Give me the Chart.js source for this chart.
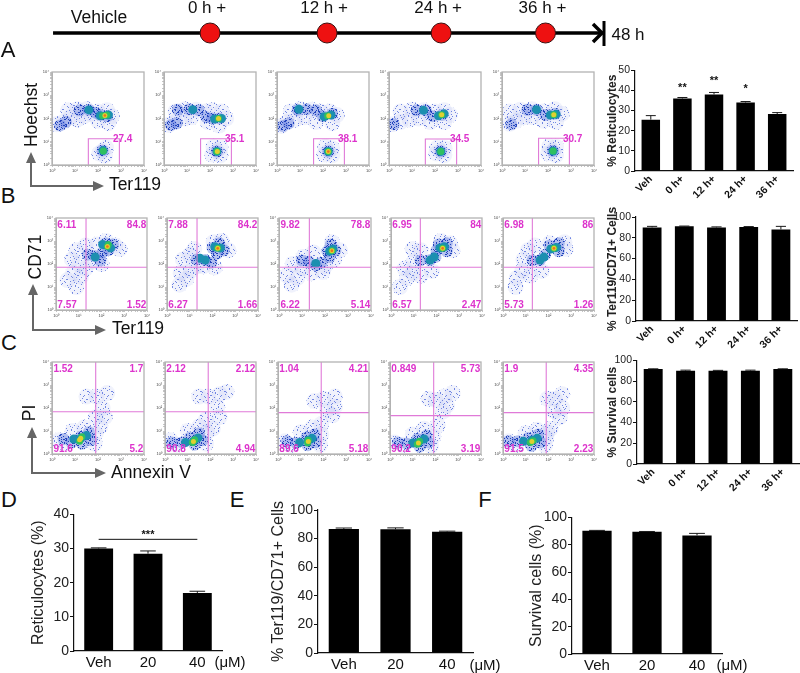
<!DOCTYPE html>
<html>
<head>
<meta charset="utf-8">
<title>Reticulocytes</title>
<script src="https://cdn.jsdelivr.net/npm/chart.js@4.4.2/dist/chart.umd.min.js"></script>
<style>
    html, body { margin: 0; padding: 0; background: #fff; }
    #page { position: relative; width: 800px; height: 673px; overflow: hidden; font-family: "Liberation Sans", Arial, sans-serif; color: #111; }
    #page canvas { position: absolute; }
    .txt { position: absolute; white-space: nowrap; line-height: 1; transform: translate(-50%, -50%); }
    svg { position: absolute; left: 0; top: 0; }
</style>
</head>
<body>
<div id="page">
    <svg width="800" height="673">
        <g fill="none" stroke="#666" stroke-width="2">
            <path d="M31 160V186H96"/>
            <path d="M33 293V330H98"/>
            <path d="M32 436V473H98"/>
        </g>
        <g fill="#666">
            <path d="M31 152l-5 11h10z M104 186l-11-5v10z"/>
            <path d="M33 284l-5 11h10z M106 330l-11-5v10z"/>
            <path d="M32 427l-5 11h10z M106 473l-11-5v10z"/>
        </g>
        <path d="M593 24l9 9-9 9" fill="none" stroke="#000" stroke-width="3.5"/>
        <path d="M604 21V46" fill="none" stroke="#000" stroke-width="3"/>
    </svg>
</div>
<script>
// --- timeline ---
const timelineHours = [0, 12, 23.7, 34.4];
const timelineLabels = ['0 h +', '12 h +', '24 h +', '36 h +'];
const timelineStart = -16.1;
const timelineEnd = 40.4;

// --- bar panels ---
const timeGroups = ['Veh', '0 h+', '12 h+', '24 h+', '36 h+'];
const doseGroups = ['Veh', '20', '40'];

const retiValues = [25.5, 36, 38, 34, 28.3];
const retiErrors = [2, 0.5, 1, 0.5, 0.7];
const retiStars = ['', '**', '**', '*', ''];
const retiStarLevels = [0, 42, 45.5, 41.5, 0];

const ter119Values = [90, 91, 90, 90.5, 88];
const ter119Errors = [1, 0.3, 0.5, 0.3, 3];

const survivalValues = [91.5, 90, 90, 90, 91.5];
const survivalErrors = [0.3, 0.5, 0.3, 0.5, 0.3];

const doseRetiValues = [30, 28.5, 17];
const doseRetiErrors = [0.2, 0.8, 0.5];
const doseRetiStars = ['', '***', ''];
const doseRetiStarLevels = [0, 34.6, 0];
const doseRetiBracket = [32.7, 32.7, 32.7];

const doseTerValues = [86.7, 86.5, 84.8];
const doseTerErrors = [0.7, 1, 0.4];

const doseSurvivalValues = [90.3, 89.5, 86.8];
const doseSurvivalErrors = [0.2, 0.2, 1.5];

// --- flow plots: [log10 x, log10 y, density level 1-6] ---
const decades = [1, 10, 100, 1000, 10000];
const decadeLabels = ['10⁰', '10¹', '10²', '10³', '10⁴'];

const flowA1 = [[0.2,1.75,1],[0.5,1.85,1],[0.8,2.05,1],[1.1,1.95,1],[1.4,2.1,1],[1.7,2.2,1],[0.7,2.35,1],[1.1,2.4,1],[1.5,2.4,1],[2,2.3,1],[2.4,2.35,1],[2.6,2.1,1],[2.45,1.8,1],[2,1.9,1],[2.2,0.6,1],[2.05,0.5,1],[2.35,0.75,1],[2.3,0.4,1],[0.35,1.7,2],[0.6,1.85,2],[1.2,2.35,2],[1.6,2.38,2],[1.9,2.25,2],[2.1,2.15,2],[2.4,2.1,2],[2.2,0.62,2],[1.6,2.37,3],[2.1,2.12,3],[2.45,2.15,3],[2.22,0.62,3],[2.2,2.12,4],[2.38,2.15,4],[2.23,0.6,4],[2.3,2.13,5],[2.3,2.13,6]];
const flowA2 = [[0.2,1.72,1],[0.5,1.85,1],[0.9,2.0,1],[1.2,2.05,1],[0.5,2.3,1],[0.9,2.4,1],[1.4,2.38,1],[1.8,2.3,1],[2.1,2.35,1],[2.5,2.3,1],[2.7,2.0,1],[2.4,1.7,1],[1.9,1.85,1],[2.3,0.6,1],[2.1,0.45,1],[2.45,0.75,1],[2.15,0.78,1],[2.45,0.42,1],[0.3,1.72,2],[0.55,1.8,2],[0.6,2.38,2],[1.1,2.4,2],[1.5,2.36,2],[1.85,2.05,2],[2.1,2,2],[2.4,2,2],[2.3,0.58,2],[1.25,2.38,3],[2.2,1.98,3],[2.5,2,3],[2.3,0.58,3],[2.37,2,4],[2.3,0.58,4],[2.37,2,5],[2.32,0.58,5]];
const flowA3 = [[0.2,1.68,1],[0.45,1.85,1],[0.8,1.95,1],[1.2,2.05,1],[0.6,2.3,1],[1,2.4,1],[1.5,2.38,1],[1.9,2.3,1],[2.3,2.3,1],[2.6,2.15,1],[2.4,1.8,1],[1.7,1.85,1],[2.23,0.58,1],[2.05,0.45,1],[2.4,0.72,1],[2.1,0.78,1],[2.4,0.42,1],[0.25,1.68,2],[0.5,1.78,2],[0.9,2.38,2],[1.3,2.4,2],[1.7,2.35,2],[2,2.1,2],[2.4,2.2,2],[2.23,0.58,2],[0.95,2.4,3],[2.05,2.08,3],[2.35,2.15,3],[2.23,0.58,3],[2.2,2.12,4],[2.23,0.58,4],[2.25,2.12,5],[2.23,0.58,5],[2.23,0.58,6]];
const flowA4 = [[0.15,1.75,1],[0.5,1.85,1],[0.9,1.95,1],[1.3,2,1],[0.5,2.3,1],[1,2.38,1],[1.5,2.35,1],[2,2.3,1],[2.4,2.35,1],[2.65,2.15,1],[2.4,1.85,1],[1.8,1.85,1],[2.25,0.58,1],[2.05,0.5,1],[2.42,0.72,1],[2.1,0.75,1],[2.4,0.42,1],[0.2,1.75,2],[1.2,2.35,2],[1.6,2.35,2],[1.9,2.1,2],[2.3,2.15,2],[2.25,0.58,2],[1.5,2.35,3],[2.15,2.12,3],[2.4,2.2,3],[2.25,0.58,3],[2.29,2.16,4],[2.25,0.58,4],[2.29,2.16,5]];
const flowA5 = [[0.33,1.77,1],[0.6,1.9,1],[0.95,2.05,1],[1.3,2.05,1],[0.35,2.3,1],[0.8,2.38,1],[1.3,2.4,1],[1.8,2.3,1],[2.3,2.4,1],[2.6,2.2,1],[2.35,1.85,1],[1.8,1.9,1],[2.22,0.6,1],[2,0.5,1],[2.35,0.78,1],[2.05,0.8,1],[2.35,0.42,1],[0.4,1.75,2],[1.1,2.38,2],[1.5,2.38,2],[1.9,2.15,2],[2.3,2.2,2],[2.22,0.6,2],[1.5,2.38,3],[2.1,2.15,3],[2.35,2.18,3],[2.22,0.6,3],[2.25,2.16,4],[2.22,0.6,4],[2.25,2.16,5]];

const flowB1 = [[0.5,1.3,1],[0.75,1.6,1],[0.9,1.0,1],[1.1,1.45,1],[0.7,2.2,1],[1.0,2.0,1],[1.3,1.8,1],[0.9,2.6,1],[1.3,2.8,1],[1.6,2.1,1],[2,2.0,1],[2.6,2.8,1],[2.8,2.65,1],[2.2,3.0,1],[1.8,2.85,1],[1.7,2.35,2],[1.4,2.4,2],[1.95,2.15,2],[2.05,2.5,2],[2.2,2.9,2],[2.5,2.85,2],[2.3,2.6,2],[1.72,2.3,3],[2.05,2.85,3],[2.4,2.7,3],[2.26,2.76,4],[2.3,2.85,4],[2.26,2.76,5],[2.26,2.76,6]];
const flowB2 = [[0.55,1.1,1],[0.6,1.6,1],[0.85,1.35,1],[1.05,1.7,1],[0.7,2.2,1],[1,2.4,1],[1.3,1.9,1],[1.2,2.65,1],[1.6,1.9,1],[2.1,1.85,1],[2.7,2.6,1],[2.4,3.0,1],[2.05,2.95,1],[1.3,2.2,2],[1.68,2.17,2],[1.95,2.05,2],[2,2.7,2],[2.3,2.9,2],[2.5,2.6,2],[2.2,2.45,2],[1.68,2.17,3],[1.45,2.25,3],[2.1,2.75,3],[2.35,2.7,3],[2.23,2.68,4],[2.23,2.68,5],[2.23,2.68,6]];
const flowB3 = [[0.55,1.1,1],[0.35,1.5,1],[0.8,1.4,1],[0.6,2,1],[1,1.8,1],[1.05,2.3,1],[1.4,1.6,1],[1.9,1.65,1],[2,1.9,1],[2.4,2.2,1],[2.65,2.6,1],[1.5,2.5,1],[2.3,2.95,1],[1.0,2.15,2],[1.3,2.1,2],[1.6,1.95,2],[1.85,2.05,2],[2.1,2.55,2],[2.45,2.6,2],[2.25,2.85,2],[2.2,2.3,2],[1.6,2.02,3],[2.2,2.55,3],[2.35,2.65,3],[2.3,2.58,4],[2.3,2.58,5],[2.3,2.58,6]];
const flowB4 = [[0.4,1.0,1],[0.7,1.38,1],[0.95,1.6,1],[0.6,1.8,1],[1.0,2.1,1],[0.95,2.65,1],[1.3,2.6,1],[1.3,1.5,1],[1.8,1.7,1],[2.6,2.9,1],[2.7,2.6,1],[2.2,3.0,1],[1.3,2.15,2],[1.72,2.17,2],[1.95,2.3,2],[2.1,2.85,2],[2.45,2.9,2],[2.45,2.55,2],[2.0,2.6,2],[1.72,2.17,3],[1.9,2.3,3],[2.15,2.7,3],[2.35,2.75,3],[2.27,2.68,4],[2.27,2.68,5],[2.27,2.68,6]];
const flowB5 = [[0.6,1.38,1],[0.55,1.0,1],[0.85,1.7,1],[0.9,2.2,1],[1.1,2.6,1],[1.4,2.8,1],[1.2,1.5,1],[1.7,1.7,1],[2.05,2.9,1],[2.7,2.95,1],[2.75,2.65,1],[1.3,2.15,2],[1.63,2.17,2],[1.85,2.4,2],[2.05,2.8,2],[2.45,2.9,2],[2.45,2.55,2],[1.63,2.17,3],[1.8,2.3,3],[2.1,2.65,3],[2.35,2.72,3],[2.24,2.68,4],[2.24,2.68,5],[2.24,2.68,6]];

const flowC1 = [[1.93,2.5,1],[2.4,2.65,1],[1.5,2.5,1],[2.3,1.6,1],[2.1,1.2,1],[1.9,1.6,1],[2.2,2.0,1],[0.3,0.6,1],[0.6,0.45,1],[0.9,1.0,1],[1.4,1.15,1],[1.9,0.9,1],[1.85,0.45,1],[0.5,0.65,2],[0.85,0.5,2],[1.25,0.75,2],[1.6,0.95,2],[1.7,0.6,2],[1.3,0.45,2],[0.95,0.65,3],[1.25,0.69,3],[1.5,0.8,3],[1.2,0.55,4],[1.3,0.75,4],[1.25,0.69,5],[1.2,0.62,5]];
const flowC2 = [[1.9,2.5,1],[2.4,2.6,1],[1.5,2.5,1],[2.4,1.6,1],[2.1,1.1,1],[1.8,1.5,1],[2.3,2.05,1],[2.7,2.7,1],[0.25,0.6,1],[0.5,0.4,1],[1,1.0,1],[1.5,1.2,1],[1.85,0.95,1],[1.8,0.45,1],[0.3,0.5,2],[0.75,0.5,2],[1.1,0.72,2],[1.5,0.9,2],[1.65,0.6,2],[1.3,0.4,2],[0.9,0.5,3],[1.25,0.55,3],[1.45,0.7,3],[1.2,0.5,4],[1.3,0.62,4],[1.25,0.54,5]];
const flowC3 = [[2.0,2.4,1],[2.5,2.5,1],[1.6,2.3,1],[2.4,1.68,1],[2.15,1.9,1],[1.9,1.3,1],[2.5,2.05,1],[0.3,0.55,1],[0.6,0.4,1],[1,0.95,1],[1.5,1.15,1],[1.9,0.85,1],[1.85,0.4,1],[0.4,0.55,2],[0.8,0.48,2],[1.25,0.72,2],[1.6,0.85,2],[1.65,0.5,2],[1.3,0.38,2],[0.95,0.5,3],[1.33,0.6,3],[1.5,0.68,3],[1.3,0.48,4],[1.33,0.6,4],[1.33,0.54,5]];
const flowC4 = [[2.4,2.5,1],[2.0,2.35,1],[2.75,2.65,1],[2.33,1.84,1],[2.1,1.25,1],[2.5,2.1,1],[1.7,2.4,1],[0.2,0.5,1],[0.6,0.4,1],[1,0.85,1],[1.5,1.1,1],[1.9,0.75,1],[1.8,0.35,1],[0.35,0.5,2],[0.75,0.45,2],[1.2,0.65,2],[1.6,0.8,2],[1.7,0.5,2],[1.3,0.32,2],[1,0.48,3],[1.25,0.5,3],[1.5,0.65,3],[1.2,0.42,4],[1.3,0.55,4],[1.25,0.48,5]];
const flowC5 = [[2.28,2.4,1],[1.95,2.4,1],[2.6,2.6,1],[2.5,1.6,1],[2.25,1.85,1],[2.1,1.1,1],[1.95,0.95,1],[2.6,2.0,1],[0.25,0.55,1],[0.6,0.4,1],[1,0.9,1],[1.5,1.05,1],[1.9,0.7,1],[1.85,0.38,1],[0.25,0.55,2],[0.65,0.55,2],[1.1,0.7,2],[1.55,0.85,2],[1.65,0.5,2],[1.25,0.35,2],[0.9,0.55,3],[1.27,0.6,3],[1.5,0.68,3],[1.2,0.5,4],[1.32,0.58,4],[1.27,0.54,5]];

// gates in log10 units
const gateRowA = [[1.58, 2.93, 1.13], [1.59, 2.93, 1.13], [1.59, 2.93, 1.13], [1.58, 2.94, 1.12], [1.59, 2.93, 1.15]];
const quadRowB = [[1.32, 1.86], [1.32, 1.86], [1.32, 1.86], [1.29, 1.86], [1.29, 1.86]];
const quadRowC = [[1.9, 1.84], [1.9, 1.84], [1.9, 1.8], [1.92, 1.67], [1.9, 1.8]];

// percentages printed on the plots
const gatePercents = ['27.4', '35.1', '38.1', '34.5', '30.7'];
const quadPercentsB = [['6.11', '84.8', '7.57', '1.52'], ['7.88', '84.2', '6.27', '1.66'], ['9.82', '78.8', '6.22', '5.14'], ['6.95', '84', '6.57', '2.47'], ['6.98', '86', '5.73', '1.26']];
const quadPercentsC = [['1.52', '1.7', '91.6', '5.2'], ['2.12', '2.12', '90.8', '4.94'], ['1.04', '4.21', '89.6', '5.18'], ['0.849', '5.73', '90.2', '3.19'], ['1.9', '4.35', '91.5', '2.23']];

const FONT = '"Liberation Sans", Arial, sans-serif';
const page = document.getElementById('page');

function addText(text, cx, cy, size, rotate) {
    const el = document.createElement('div');
    el.className = 'txt';
    el.textContent = text;
    el.style.left = cx + 'px';
    el.style.top = cy + 'px';
    el.style.fontSize = size + 'px';
    if (rotate) el.style.transform = `translate(-50%, -50%) rotate(${rotate}deg)`;
    page.appendChild(el);
}

// box = chart area on the page, m = room left around it for axes
function addChart(box, m, config) {
    const canvas = document.createElement('canvas');
    const width = box.x1 - box.x0 + m.l + m.r;
    const height = box.y1 - box.y0 + m.t + m.b;
    canvas.width = width;
    canvas.height = height;
    canvas.style.left = (box.x0 - m.l) + 'px';
    canvas.style.top = (box.y0 - m.t) + 'px';
    canvas.style.width = width + 'px';
    canvas.style.height = height + 'px';
    page.appendChild(canvas);

    const options = config.options;
    options.responsive = false;
    options.animation = false;
    options.devicePixelRatio = 1;
    options.layout = { autoPadding: false, padding: { top: m.t, right: m.r, left: 0, bottom: 0 } };
    options.plugins = Object.assign({ legend: { display: false }, tooltip: { enabled: false } }, options.plugins);
    options.scales.x.afterFit = s => { s.height = m.b; };
    options.scales.y.afterFit = s => { s.width = m.l; };
    return new Chart(canvas, config);
}

// --- speckle fills, so the low density zones read as single events ---
const speckleDots = [[1,2],[6,0],[11,3],[16,1],[20,4],[3,6],[8,7],[14,6],[18,8],[22,9],[0,10],[5,11],[10,10],[15,12],[19,13],[2,14],[7,15],[12,15],[17,16],[22,17],[4,18],[9,19],[13,20],[20,20],[1,22],[6,23],[16,22],[23,1],[12,8],[9,13]];
const sparseShifts = [[0, 0], [7, 11]];
const denseShifts = [[0, 0], [7, 11], [13, 5], [3, 17], [19, 9]];

function speckle(color, shifts, back) {
    const tile = document.createElement('canvas');
    tile.width = tile.height = 24;
    const c = tile.getContext('2d');
    if (back) {
        c.fillStyle = back;
        c.fillRect(0, 0, 24, 24);
    }
    c.fillStyle = color;
    shifts.forEach(s => {
        speckleDots.forEach(d => c.fillRect((d[0] + s[0]) % 24, (d[1] + s[1]) % 24, 1, 1));
    });
    return c.createPattern(tile, 'repeat');
}

const densityStyles = [
    { r: 8, fill: speckle('#7186e2', sparseShifts, 'rgba(150,165,235,0.14)') },
    { r: 6, fill: speckle('#2143bc', denseShifts, 'rgba(80,110,220,0.4)') },
    { r: 4.5, fill: '#1c8fb0' },
    { r: 3.5, fill: '#2fc060' },
    { r: 2.5, fill: '#e0d030' },
    { r: 1.3, fill: '#ee7020' }
];

const boxBorder = {
    id: 'boxBorder',
    afterDatasetsDraw(chart) {
        const a = chart.chartArea;
        const ctx = chart.ctx;
        ctx.save();
        ctx.strokeStyle = '#b3b3b3';
        ctx.lineWidth = 1.3;
        ctx.strokeRect(a.left, a.top, a.right - a.left, a.bottom - a.top);
        ctx.restore();
    }
};

// magenta percentages
const percentText = {
    id: 'percentText',
    afterDraw(chart, args, opts) {
        const ctx = chart.ctx;
        const { x, y } = chart.scales;
        ctx.save();
        ctx.font = 'bold 10px ' + FONT;
        ctx.fillStyle = '#dd33cc';
        ctx.textBaseline = 'middle';
        opts.items.forEach(it => {
            ctx.textAlign = it.align;
            ctx.fillText(it.text, x.getPixelForValue(10 ** it.x), y.getPixelForValue(10 ** it.y));
        });
        ctx.restore();
    }
};

function flowChart(box, events, gateLines, percents) {
    // higher order is painted first, so the hot levels land on top
    const datasets = densityStyles.map((style, i) => ({
        type: 'scatter',
        order: densityStyles.length - i,
        data: events.filter(e => e[2] === i + 1).map(e => ({ x: 10 ** e[0], y: 10 ** e[1] })),
        backgroundColor: style.fill,
        pointRadius: style.r,
        pointBorderWidth: 0,
        borderWidth: 0
    }));
    gateLines.forEach(line => {
        datasets.push({
            type: 'line',
            order: 0,
            data: line.map(p => ({ x: 10 ** p[0], y: 10 ** p[1] })),
            borderColor: '#e07ad8',
            borderWidth: 1.1,
            pointRadius: 0,
            fill: false,
            tension: 0
        });
    });
    const axis = () => ({
        type: 'logarithmic',
        min: 1,
        max: 10000,
        border: { color: '#b3b3b3' },
        grid: { drawOnChartArea: false, tickLength: 2, color: '#8a8a8a', lineWidth: 0.5 },
        ticks: {
            autoSkip: false,
            maxRotation: 0,
            padding: 1,
            color: '#444',
            font: { size: 4, family: FONT },
            callback: v => {
                const i = decades.indexOf(v);
                return i >= 0 ? decadeLabels[i] : '';
            }
        }
    });
    const chart = addChart(box, { l: 11, r: 6, t: 4, b: 11 }, {
        type: 'scatter',
        data: { datasets },
        options: { scales: { x: axis(), y: axis() }, plugins: { percentText: { items: percents } } },
        plugins: [boxBorder, percentText]
    });
    chart.canvas.style.filter = 'blur(0.45px)';
}

function gatePlot(box, events, gate, percent) {
    const line = [[gate[0], 0], [gate[0], gate[2]], [gate[1], gate[2]], [gate[1], 0]];
    flowChart(box, events, [line], [{ text: percent, align: 'left', x: 2.65, y: 1.11 }]);
}

function quadPlot(box, events, quad, percents, leftEdge) {
    const lines = [[[quad[0], 0], [quad[0], 4]], [[0, quad[1]], [4, quad[1]]]];
    flowChart(box, events, lines, [
        { text: percents[0], align: 'left', x: leftEdge, y: 3.7 },
        { text: percents[1], align: 'right', x: 3.97, y: 3.7 },
        { text: percents[2], align: 'left', x: leftEdge, y: 0.2 },
        { text: percents[3], align: 'right', x: 3.97, y: 0.2 }
    ]);
}

// --- bars with upper error whisker and optional stars ---
const errorBars = {
    id: 'errorBars',
    afterDatasetsDraw(chart, args, opts) {
        const ctx = chart.ctx;
        const meta = chart.getDatasetMeta(0);
        const y = chart.scales.y;
        ctx.save();
        ctx.strokeStyle = '#1a1a1a';
        ctx.lineWidth = 1;
        meta.data.forEach((bar, i) => {
            const top = y.getPixelForValue(opts.values[i] + opts.errors[i]);
            const half = bar.width * 0.27;
            ctx.beginPath();
            ctx.moveTo(bar.x, bar.y);
            ctx.lineTo(bar.x, top);
            ctx.moveTo(bar.x - half, top);
            ctx.lineTo(bar.x + half, top);
            ctx.stroke();
        });
        if (opts.stars) {
            ctx.fillStyle = '#111';
            ctx.font = 'bold 11px ' + FONT;
            ctx.textAlign = 'center';
            ctx.textBaseline = 'middle';
            meta.data.forEach((bar, i) => {
                if (opts.stars[i]) ctx.fillText(opts.stars[i], bar.x, y.getPixelForValue(opts.starLevels[i]) + 2);
            });
        }
        ctx.restore();
    }
};

function barChart(p) {
    const datasets = [{
        type: 'bar',
        data: p.values,
        backgroundColor: '#000',
        categoryPercentage: 1,
        barPercentage: 0.585
    }];
    if (p.bracket) {
        datasets.push({ type: 'line', data: p.bracket, borderColor: '#111', borderWidth: 1, pointRadius: 0 });
    }
    addChart(p.box, p.margin, {
        type: 'bar',
        data: { labels: p.labels, datasets },
        options: {
            plugins: { errorBars: { values: p.values, errors: p.errors, stars: p.stars, starLevels: p.starLevels } },
            scales: {
                x: {
                    border: { color: '#111', width: 1.2 },
                    grid: { display: false, drawTicks: false },
                    ticks: {
                        color: '#111',
                        padding: p.xPad,
                        autoSkip: false,
                        minRotation: p.rotate,
                        maxRotation: p.rotate,
                        font: { size: p.xSize, family: FONT, weight: p.bold ? 'bold' : 'normal' }
                    }
                },
                y: {
                    min: 0,
                    max: p.max,
                    border: { color: '#111', width: 1.2 },
                    grid: { drawOnChartArea: false, color: '#111', tickLength: 4 },
                    ticks: { stepSize: p.step, color: '#222', padding: 1, font: { size: p.ySize, family: FONT } },
                    title: {
                        display: true,
                        text: p.title,
                        color: '#222',
                        padding: 0,
                        font: { size: p.titleSize, family: FONT, weight: p.bold ? 'bold' : 'normal' }
                    }
                }
            }
        },
        plugins: [errorBars]
    });
}

// --- timeline ---
const timelineText = {
    id: 'timelineText',
    afterDraw(chart) {
        const ctx = chart.ctx;
        const x = chart.scales.x;
        ctx.save();
        ctx.font = '17px ' + FONT;
        ctx.fillStyle = '#111';
        ctx.textAlign = 'center';
        ctx.textBaseline = 'middle';
        timelineHours.forEach((h, i) => ctx.fillText(timelineLabels[i], x.getPixelForValue(h) - 3, 8));
        ctx.restore();
    }
};

addChart({ x0: 0, x1: 800, y0: 0, y1: 66 }, { l: 0, r: 0, t: 0, b: 0 }, {
    type: 'line',
    data: {
        datasets: [
            {
                order: 2,
                data: [{ x: timelineStart, y: 0 }, { x: timelineEnd, y: 0 }],
                borderColor: '#000',
                borderWidth: 3.5,
                pointRadius: 0
            },
            {
                order: 1,
                data: timelineHours.map(h => ({ x: h, y: 0 })),
                showLine: false,
                backgroundColor: '#ee1111',
                borderColor: '#3a1010',
                pointBorderWidth: 1,
                pointRadius: 10
            }
        ]
    },
    options: {
        scales: {
            x: { type: 'linear', display: false, min: -21.54, max: 60.5 },
            y: { type: 'linear', display: false, min: -1, max: 1 }
        }
    },
    plugins: [timelineText]
});

// --- row A ---
const rowAX = [[52, 144], [164, 256], [277, 369], [389, 481], [502, 594]];
[flowA1, flowA2, flowA3, flowA4, flowA5].forEach((events, i) => {
    gatePlot({ x0: rowAX[i][0], x1: rowAX[i][1], y0: 72, y1: 165 }, events, gateRowA[i], gatePercents[i]);
});

// --- row B ---
const rowBX = [[56, 147], [167, 258], [279, 371], [391, 482], [503, 594]];
[flowB1, flowB2, flowB3, flowB4, flowB5].forEach((events, i) => {
    quadPlot({ x0: rowBX[i][0], x1: rowBX[i][1], y0: 218, y1: 310 }, events, quadRowB[i], quadPercentsB[i], 0.06);
});

// --- row C ---
const rowCX = [[52, 144], [165, 256], [278, 369], [390, 481], [503, 594]];
[flowC1, flowC2, flowC3, flowC4, flowC5].forEach((events, i) => {
    quadPlot({ x0: rowCX[i][0], x1: rowCX[i][1], y0: 362, y1: 454 }, events, quadRowC[i], quadPercentsC[i], 0.06);
});

// --- bars on the right ---
const smallBars = { labels: timeGroups, rotate: 45, xSize: 10.5, ySize: 10.5, titleSize: 12, bold: true, xPad: 2 };
barChart({ ...smallBars, box: { x0: 635, x1: 793, y0: 69, y1: 171 }, margin: { l: 30, r: 6, t: 6, b: 32 }, title: '% Reticulocytes', values: retiValues, errors: retiErrors, stars: retiStars, starLevels: retiStarLevels, max: 50, step: 10 });
barChart({ ...smallBars, box: { x0: 636, x1: 797, y0: 217, y1: 321 }, margin: { l: 31, r: 3, t: 14, b: 32 }, title: '% Ter119/CD71+ Cells', values: ter119Values, errors: ter119Errors, max: 100, step: 20 });
barChart({ ...smallBars, box: { x0: 637, x1: 799, y0: 359, y1: 464 }, margin: { l: 32, r: 1, t: 6, b: 32 }, title: '% Survival cells', values: survivalValues, errors: survivalErrors, max: 100, step: 20 });

// --- bars at the bottom ---
const bigBars = { labels: doseGroups, rotate: 0, xSize: 15, ySize: 14, titleSize: 16, bold: false, xPad: 3 };
barChart({ ...bigBars, box: { x0: 74, x1: 222, y0: 513, y1: 651 }, margin: { l: 45, r: 3, t: 8, b: 22 }, title: 'Reticulocytes (%)', values: doseRetiValues, errors: doseRetiErrors, stars: doseRetiStars, starLevels: doseRetiStarLevels, bracket: doseRetiBracket, max: 40, step: 10 });
barChart({ ...bigBars, box: { x0: 318, x1: 473, y0: 510, y1: 653 }, margin: { l: 49, r: 3, t: 16, b: 20 }, title: '% Ter119/CD71+ Cells', values: doseTerValues, errors: doseTerErrors, max: 100, step: 20 });
barChart({ ...bigBars, box: { x0: 572, x1: 722, y0: 516, y1: 654 }, margin: { l: 45, r: 3, t: 8, b: 19 }, title: 'Survival cells (%)', values: doseSurvivalValues, errors: doseSurvivalErrors, max: 100, step: 20 });

// --- loose text ---
addText('Vehicle', 99, 18, 17.5);
addText('48 h', 628, 34, 17);
addText('A', 8, 50, 22);
addText('B', 8, 196, 22);
addText('C', 9, 343, 22);
addText('D', 9, 500, 22);
addText('E', 237, 500, 22);
addText('F', 485, 500, 22);
addText('Hoechst', 32, 115, 17.5, -90);
addText('Ter119', 135, 185, 17.5);
addText('CD71', 36, 257, 17.5, -90);
addText('Ter119', 138, 329, 17.5);
addText('PI', 30, 413, 17.5, -90);
addText('Annexin V', 151, 473, 17.5);
addText('(μM)', 230, 661, 15);
addText('(μM)', 485, 664, 15);
addText('(μM)', 732, 664, 15);
</script>
</body>
</html>
